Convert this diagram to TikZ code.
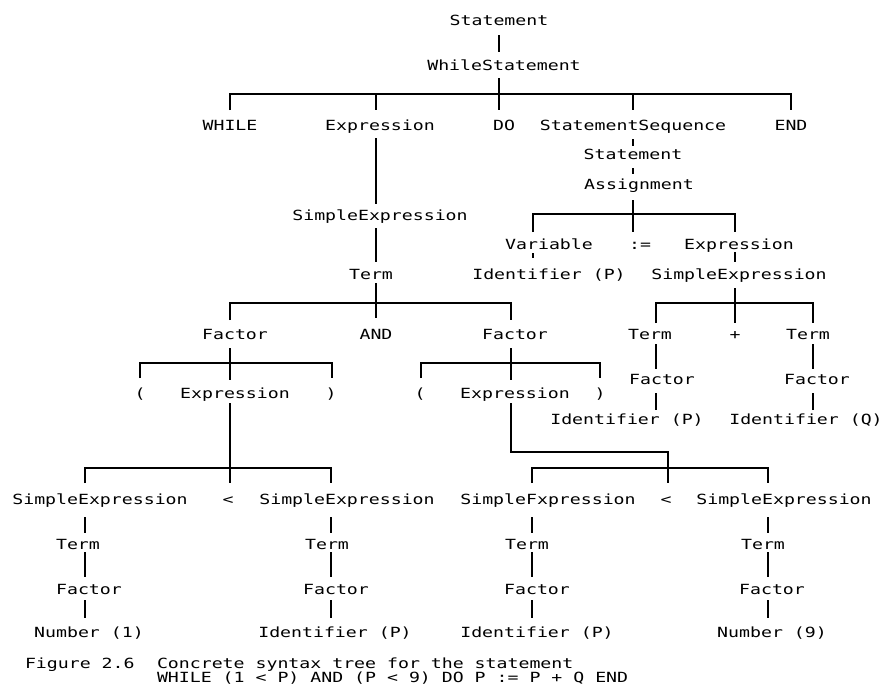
\documentclass[tikz,border=0pt]{standalone}
\usepackage{fontspec}
\newfontfamily\pixfont[FakeStretch=1.3]{DejaVu Sans Mono}
\usetikzlibrary{calc}
\tikzset{
  lbl/.style={font=\pixfont\fontsize{10.5}{12}\selectfont, inner sep=0pt, outer sep=0pt,
              text height=7.5pt, text depth=0pt, anchor=base},
  edge/.style={line width=1.2pt, black}
}
\begin{document}
\begin{tikzpicture}[x=0.75pt, y=-0.75pt]
\useasboundingbox (0,0) rectangle (884,686);
\fill[white] (0,0) rectangle (884,686);
% ---- nodes ----
\node[lbl] (st) at (499,25) {Statement};
\node[lbl] (ws) at (504,70) {WhileStatement};
\node[lbl] (wh) at (230,130) {WHILE};
\node[lbl] (ex1) at (380,130) {Expression};
\node[lbl] (do) at (504,130) {DO};
\node[lbl] (ss) at (633,130) {StatementSequence};
\node[lbl] (en) at (791,130) {END};
\node[lbl] (st2) at (633,159) {Statement};
\node[lbl] (as) at (639,189) {Assignment};
\node[lbl] (var) at (549,249) {Variable};
\node[lbl] (asg) at (640,249) {:=};
\node[lbl] (ex2) at (739,249) {Expression};
\node[lbl] (idp1) at (549,279) {Identifier (P)};
\node[lbl] (se2) at (739,279) {SimpleExpression};
\node[lbl] (se1) at (380,220) {SimpleExpression};
\node[lbl] (tm1) at (371,279) {Term};
\node[lbl] (fa1) at (235,339) {Factor};
\node[lbl] (and) at (376,339) {AND};
\node[lbl] (fa2) at (515,339) {Factor};
\node[lbl] (tm2) at (650,339) {Term};
\node[lbl] (plus) at (735,339) {+};
\node[lbl] (tm3) at (808,339) {Term};
\node[lbl] (lp1) at (140,398) {(};
\node[lbl] (ex3) at (235,398) {Expression};
\node[lbl] (rp1) at (331,398) {)};
\node[lbl] (lp2) at (420,398) {(};
\node[lbl] (ex4) at (515,398) {Expression};
\node[lbl] (rp2) at (600,398) {)};
\node[lbl] (fa3) at (662,384) {Factor};
\node[lbl] (fa4) at (817,384) {Factor};
\node[lbl] (idp2) at (627,424) {Identifier (P)};
\node[lbl] (idq) at (806,424) {Identifier (Q)};
\node[lbl] (se3) at (100,504) {SimpleExpression};
\node[lbl] (lt1) at (228,504) {<};
\node[lbl] (se4) at (347,504) {SimpleExpression};
\node[lbl] (se5) at (548,504) {SimpleFxpression};
\node[lbl] (lt2) at (666,504) {<};
\node[lbl] (se6) at (784,504) {SimpleExpression};
\node[lbl] (tm4) at (78,549) {Term};
\node[lbl] (tm5) at (327,549) {Term};
\node[lbl] (tm6) at (527,549) {Term};
\node[lbl] (tm7) at (763,549) {Term};
\node[lbl] (fa5) at (89,594) {Factor};
\node[lbl] (fa6) at (336,594) {Factor};
\node[lbl] (fa7) at (537,594) {Factor};
\node[lbl] (fa8) at (772,594) {Factor};
\node[lbl] (nm1) at (89,637) {Number (1)};
\node[lbl] (idp3) at (335,637) {Identifier (P)};
\node[lbl] (idp4) at (537,637) {Identifier (P)};
\node[lbl] (nm9) at (772,637) {Number (9)};
\node[lbl, anchor=base west] (fig) at (25,668) {Figure 2.6};
\node[lbl, anchor=base west] (cap1) at (157,668) {Concrete syntax tree for the statement};
\node[lbl, anchor=base west] (cap2) at (157,682) {WHILE (1 < P) AND (P < 9) DO P := P + Q END};
% ---- connectors ----
\draw[edge] ($(st.south)+(0,10)$) -- ($(ws.north)+(-5,-8)$);
\draw[edge] ($(ws.south)+(-5,8)$) -- ($(ws.south)+(-5,24)$);
\draw[edge] ($(wh.north)+(0,-10)$) -- ($(wh.north)+(0,-26)$) -- ($(en.north)+(0,-26)$) -- ($(en.north)+(0,-10)$);
\draw[edge] ($(ex1.north)+(-4,-26)$) -- ($(ex1.north)+(-4,-10)$);
\draw[edge] ($(do.north)+(-5,-26)$) -- ($(do.north)+(-5,-10)$);
\draw[edge] ($(ss.north)+(0,-26)$) -- ($(ss.north)+(0,-10)$);
\draw[edge] ($(ss.south)+(0,9)$) -- ($(st2.north)+(0,-3)$);
\draw[edge] ($(st2.south)+(0,9)$) -- ($(as.north)+(-6,-5)$);
\draw[edge] ($(as.south)+(-6,11)$) -- ($(as.south)+(-6,25)$);
\draw[edge] ($(var.north)+(-16,-7)$) -- ($(var.north)+(-16,-25)$) -- ($(ex2.north)+(-4,-25)$) -- ($(ex2.north)+(-4,-7)$);
\draw[edge] ($(asg.north)+(-7,-25)$) -- ($(asg.north)+(-7,-7)$);
\draw[edge] ($(var.south)+(-16,4)$) -- ($(idp1.north)+(-16,-11)$);
\draw[edge] ($(ex2.south)+(-4,3)$) -- ($(se2.north)+(-4,-7)$);
\draw[edge] ($(se2.south)+(-4,9)$) -- ($(se2.south)+(-4,24)$);
\draw[edge] ($(tm2.north)+(6,-6)$) -- ($(tm2.north)+(6,-26)$) -- ($(tm3.north)+(5,-26)$) -- ($(tm3.north)+(5,-6)$);
\draw[edge] ($(plus.north)+(0,-26)$) -- ($(plus.north)+(0,-6)$);
\draw[edge] ($(tm2.south)+(6,5)$) -- ($(fa3.north)+(-6,-5)$);
\draw[edge] ($(tm3.south)+(5,5)$) -- ($(fa4.north)+(-4,-5)$);
\draw[edge] ($(fa3.south)+(-6,9)$) -- ($(idp2.north)+(29,-4)$);
\draw[edge] ($(fa4.south)+(-4,9)$) -- ($(idq.north)+(7,-4)$);
\draw[edge] ($(ex1.south)+(-4,8)$) -- ($(se1.north)+(-4,-6)$);
\draw[edge] ($(se1.south)+(-4,8)$) -- ($(tm1.north)+(5,-7)$);
\draw[edge] ($(tm1.south)+(5,4)$) -- ($(tm1.south)+(5,24)$);
\draw[edge] ($(fa1.north)+(-5,-9)$) -- ($(fa1.north)+(-5,-26)$) -- ($(fa2.north)+(-4,-26)$) -- ($(fa2.north)+(-4,-9)$);
\draw[edge] ($(and.north)+(0,-26)$) -- ($(and.north)+(0,-11)$);
\draw[edge] ($(fa1.south)+(-5,9)$) -- ($(fa1.south)+(-5,24)$);
\draw[edge] ($(lp1.north)+(0,-10)$) -- ($(lp1.north)+(0,-25)$) -- ($(rp1.north)+(1,-25)$) -- ($(rp1.north)+(1,-10)$);
\draw[edge] ($(ex3.north)+(-5,-25)$) -- ($(ex3.north)+(-5,-8)$);
\draw[edge] ($(fa2.south)+(-4,9)$) -- ($(fa2.south)+(-4,24)$);
\draw[edge] ($(lp2.north)+(1,-10)$) -- ($(lp2.north)+(1,-25)$) -- ($(rp2.north)+(0,-25)$) -- ($(rp2.north)+(0,-10)$);
\draw[edge] ($(ex4.north)+(-4,-25)$) -- ($(ex4.north)+(-4,-8)$);
\draw[edge] ($(ex3.south)+(-5,5)$) -- ($(lt1.north)+(2,-11)$);
\draw[edge] ($(se3.north)+(-15,-11)$) -- ($(se3.north)+(-15,-26)$) -- ($(se4.north)+(-16,-26)$) -- ($(se4.north)+(-16,-11)$);
\draw[edge] ($(ex4.south)+(-4,5)$) |- ($(lt2.north)+(2,-42)$) -- ($(lt2.north)+(2,-11)$);
\draw[edge] ($(se5.north)+(-16,-11)$) -- ($(se5.north)+(-16,-26)$) -- ($(se6.north)+(-16,-26)$) -- ($(se6.north)+(-16,-11)$);
\draw[edge] ($(se3.south)+(-15,13)$) -- ($(tm4.north)+(7,-6)$);
\draw[edge] ($(se4.south)+(-16,13)$) -- ($(tm5.north)+(4,-6)$);
\draw[edge] ($(se5.south)+(-16,13)$) -- ($(tm6.north)+(5,-6)$);
\draw[edge] ($(se6.south)+(-16,13)$) -- ($(tm7.north)+(5,-6)$);
\draw[edge] ($(tm4.south)+(7,3)$) -- ($(fa5.north)+(-4,-7)$);
\draw[edge] ($(tm5.south)+(4,3)$) -- ($(fa6.north)+(-5,-7)$);
\draw[edge] ($(tm6.south)+(5,3)$) -- ($(fa7.north)+(-5,-7)$);
\draw[edge] ($(tm7.south)+(5,3)$) -- ($(fa8.north)+(-4,-7)$);
\draw[edge] ($(fa5.south)+(-4,6)$) -- ($(nm1.north)+(-4,-9)$);
\draw[edge] ($(fa6.south)+(-5,6)$) -- ($(idp3.north)+(-4,-9)$);
\draw[edge] ($(fa7.south)+(-5,6)$) -- ($(idp4.north)+(-5,-9)$);
\draw[edge] ($(fa8.south)+(-4,6)$) -- ($(nm9.north)+(-4,-9)$);
\end{tikzpicture}
\end{document}
